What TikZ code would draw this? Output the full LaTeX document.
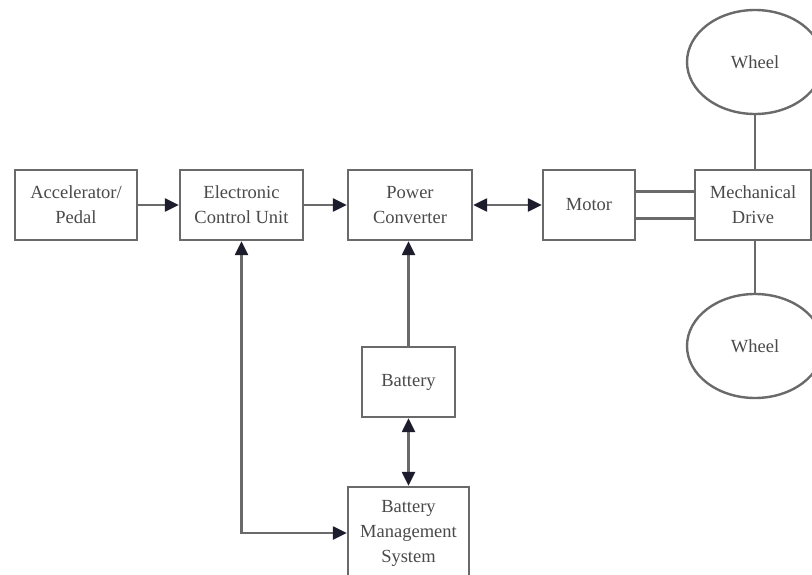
\documentclass[tikz,border=0pt]{standalone}
\usepackage{fontspec}
\setmainfont{Liberation Serif}
\usetikzlibrary{arrows.meta,shapes.geometric}
\definecolor{linegray}{HTML}{6A6A6A}
\definecolor{textgray}{HTML}{4A4A4A}
\definecolor{tipnavy}{HTML}{1C1C2C}
\tikzset{navytip/.tip={Triangle[length=14pt,width=13pt,color=tipnavy,fill=tipnavy]}}
\begin{document}
\begin{tikzpicture}[x=1pt,y=-1pt,
  blk/.style={draw=linegray, line width=2.4pt, fill=white, align=center,
    text=textgray, font=\fontsize{18.5}{25}\selectfont, inner sep=0pt},
  whl/.style={draw=linegray, line width=2.4pt, ellipse, fill=white,
    text=textgray, font=\fontsize{18.5}{25}\selectfont, inner sep=0pt,
    minimum width=136pt, minimum height=104pt},
  conn/.style={draw=linegray, line width=2.4pt},
  arr/.style={conn, -navytip},
  darr/.style={conn, navytip-navytip}
]
\clip (0,0) rectangle (812,575);
\fill[white] (0,0) rectangle (812,575);

\node[blk, minimum width=122pt, minimum height=70pt] (acc) at (76,205) {Accelerator/\\Pedal};
\node[blk, minimum width=123pt, minimum height=70pt] (ecu) at (241.5,205) {Electronic\\Control Unit};
\node[blk, minimum width=124pt, minimum height=70pt] (pc) at (410,205) {Power\\Converter};
\node[blk, minimum width=92pt, minimum height=70pt] (mot) at (589,205) {Motor};
\node[blk, minimum width=116pt, minimum height=70pt] (md) at (753,205) {Mechanical\\Drive};
\node[whl] (w1) at (755,62) {Wheel};
\node[whl] (w2) at (755,346) {Wheel};
\node[blk, minimum width=93pt, minimum height=70pt] (bat) at (408.5,382) {Battery};
\node[blk, minimum width=121pt, minimum height=92pt] (bms) at (408.5,533) {Battery\\Management\\System};

\draw[arr] (acc) -- (ecu);
\draw[arr] (ecu) -- (pc);
\draw[darr] (pc) -- (mot);
\draw[arr] (bat) -- (pc.south -| bat);
\draw[darr] (bat) -- (bms);
\draw[darr] (ecu.south) |- (bms.west);
\draw[conn] ([yshift=13.5pt]mot.east) -- ([yshift=13.5pt]mot.east -| md.west);
\draw[conn] ([yshift=-13.5pt]mot.east) -- ([yshift=-13.5pt]mot.east -| md.west);
\draw[conn] (md.north -| w1.south) -- (w1.south);
\draw[conn] (md.south -| w2.north) -- (w2.north);
\end{tikzpicture}
\end{document}
